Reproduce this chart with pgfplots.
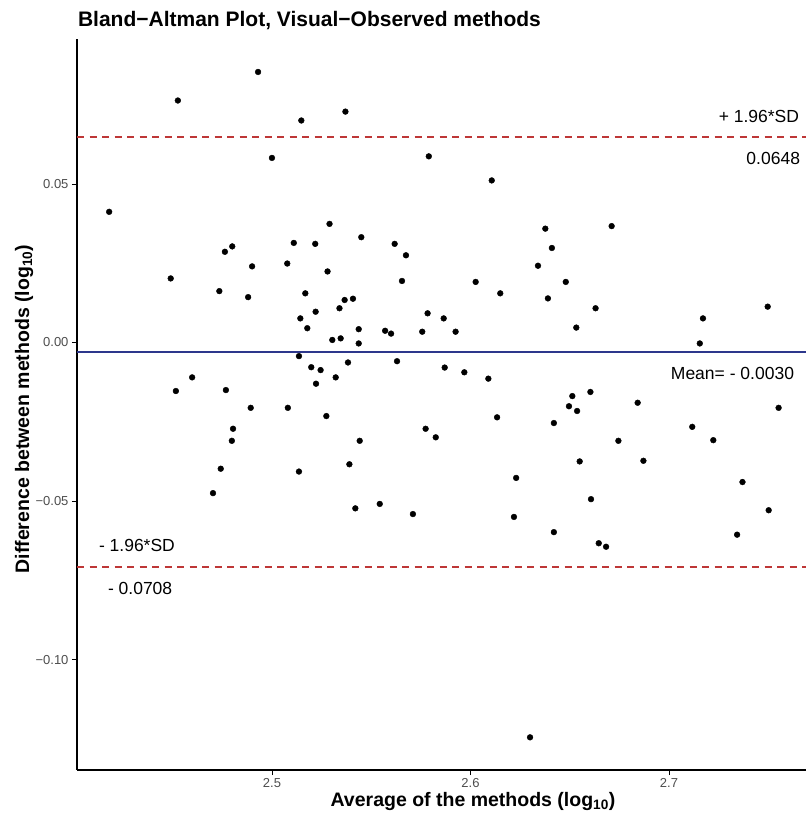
\documentclass[border=0pt]{standalone}
\usepackage{fontspec}
\setmainfont{Liberation Sans}
\usepackage{pgfplots}
\pgfplotsset{compat=1.18}
\definecolor{sdred}{RGB}{190,55,55}
\definecolor{meanblue}{RGB}{45,55,140}
\definecolor{ticklab}{RGB}{77,77,77}

\pgfplotstableread{
x y
2.418 0.0412
2.4526 0.0763
2.493 0.0853
2.5148 0.0700
2.537 0.0728
2.500 0.0582
2.579 0.0587
2.449 0.0202
2.4735 0.0162
2.4763 0.0286
2.480 0.0303
2.490 0.0240
2.488 0.0143
2.5077 0.0249
2.511 0.0314
2.5218 0.0311
2.529 0.0374
2.528 0.0224
2.545 0.0332
2.5618 0.0311
2.5675 0.0275
2.5655 0.0194
2.5168 0.0155
2.5143 0.0076
2.5178 0.0045
2.522 0.0097
2.534 0.0108
2.5366 0.0134
2.5408 0.0138
2.5304 0.0008
2.5346 0.0013
2.5437 0.0042
2.5437 -0.0003
2.557 0.0037
2.560 0.0028
2.5757 0.0034
2.5784 0.0092
2.5865 0.0076
2.6107 0.0511
2.6377 0.0359
2.6711 0.0367
2.641 0.0298
2.634 0.0242
2.6026 0.0191
2.648 0.0191
2.615 0.0155
2.639 0.0139
2.663 0.0108
2.5925 0.0034
2.6533 0.0047
2.7171 0.0076
2.7155 -0.0003
2.7497 0.0113
2.5136 -0.0043
2.5198 -0.0078
2.5245 -0.0087
2.5383 -0.0063
2.563 -0.0059
2.587 -0.0079
2.4598 -0.0110
2.4516 -0.0153
2.4768 -0.0150
2.5222 -0.0130
2.5321 -0.0110
2.4893 -0.0206
2.508 -0.0206
2.5274 -0.0232
2.4804 -0.0272
2.4798 -0.0310
2.5442 -0.0310
2.5774 -0.0272
2.5825 -0.0299
2.4742 -0.0398
2.5136 -0.0407
2.539 -0.0384
2.4703 -0.0475
2.542 -0.0523
2.5543 -0.0509
2.571 -0.0541
2.5969 -0.0094
2.609 -0.0114
2.6134 -0.0236
2.623 -0.0427
2.6219 -0.0550
2.642 -0.0254
2.642 -0.0598
2.6513 -0.0169
2.6496 -0.0201
2.6537 -0.0216
2.6604 -0.0156
2.655 -0.0375
2.6607 -0.0494
2.6646 -0.0633
2.6683 -0.0644
2.6745 -0.0310
2.6842 -0.0190
2.6871 -0.0373
2.7117 -0.0266
2.7223 -0.0308
2.737 -0.0440
2.7343 -0.0606
2.7502 -0.0529
2.7552 -0.0206
2.630 -0.1245
}\pts

\begin{document}
\begin{tikzpicture}[x=1pt,y=1pt]
\useasboundingbox (0,0) rectangle (806,818);
\begin{axis}[
  at={(77pt,48pt)}, anchor=south west,
  scale only axis, width=729pt, height=731pt,
  xmin=2.4018, xmax=2.769, ymin=-0.1348, ymax=0.0957,
  axis x line*=bottom, axis y line*=left,
  axis line style={black, line width=1.1pt, -},
  xtick={2.5,2.6,2.7}, xticklabels={2.5,2.6,2.7},
  ytick={-0.10,-0.05,0,0.05}, yticklabels={−0.10,−0.05,0.00,0.05},
  tick align=outside, major tick length=5pt,
  tick style={black, line width=0.8pt},
  ticklabel style={font=\fontsize{13}{15}\selectfont, text=ticklab},
  clip=false,
]
\addplot[sdred, line width=1.4pt, dash pattern=on 7pt off 5.5pt] coordinates {(2.4018,0.0648) (2.769,0.0648)};
\addplot[sdred, line width=1.4pt, dash pattern=on 7pt off 5.5pt] coordinates {(2.4018,-0.0708) (2.769,-0.0708)};
\addplot[meanblue, line width=1.5pt] coordinates {(2.4018,-0.0030) (2.769,-0.0030)};
\addplot[only marks, mark=*, mark size=2.9pt, black] table[x=x,y=y] {\pts};
\end{axis}
\begin{scope}[every node/.style={inner sep=0pt, outer sep=0pt}]
\node[anchor=base west, font=\fontsize{21}{24}\selectfont\bfseries] at (78,791) {Bland\textminus Altman Plot, Visual\textminus Observed methods};
\node[anchor=base, font=\fontsize{19.5}{22}\selectfont\bfseries] at (473,12) {Average of the methods (log\textsubscript{10})};
\node[anchor=base, rotate=90, font=\fontsize{19.5}{22}\selectfont\bfseries] at (29,409) {Difference between methods (log\textsubscript{10})};
\node[anchor=base east, font=\fontsize{17.5}{20}\selectfont] at (799,695) {+ 1.96*SD};
\node[anchor=base east, font=\fontsize{17.5}{20}\selectfont] at (800,653) {0.0648};
\node[anchor=base east, font=\fontsize{17.5}{20}\selectfont] at (794,438) {Mean= - 0.0030};
\node[anchor=base west, font=\fontsize{17.5}{20}\selectfont] at (99,266) {- 1.96*SD};
\node[anchor=base west, font=\fontsize{17.5}{20}\selectfont] at (108,223) {- 0.0708};
\end{scope}
\end{tikzpicture}
\end{document}
